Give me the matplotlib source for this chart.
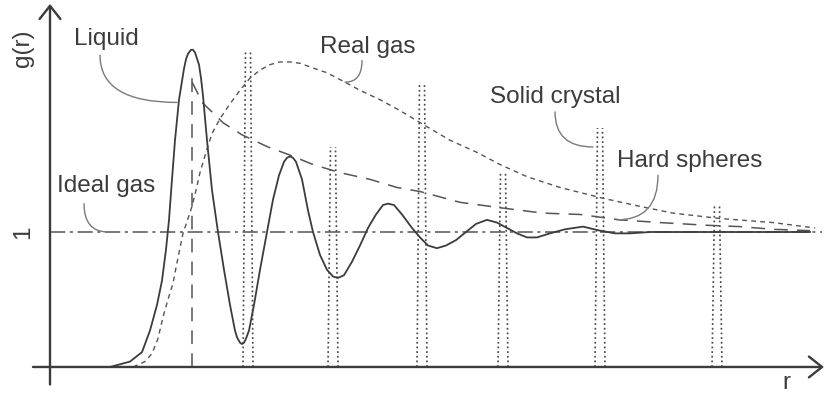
import numpy as np
import matplotlib
matplotlib.use('Agg')
import matplotlib.pyplot as plt

plt.rcParams['font.family'] = ['Liberation Sans', 'DejaVu Sans']

# liquid g(r)
liquid_r = [0.60, 0.80, 0.92, 1.00, 1.07, 1.12, 1.16, 1.19, 1.22, 1.25, 1.29, 1.34, 1.36, 1.38,
            1.41, 1.43, 1.45, 1.49, 1.51, 1.53, 1.57, 1.62, 1.68, 1.74, 1.80, 1.85, 1.87, 1.90,
            1.92, 1.94, 1.96, 1.99, 2.04, 2.10, 2.17, 2.23, 2.29, 2.34, 2.37, 2.40, 2.43, 2.46,
            2.52, 2.58, 2.63, 2.70, 2.77, 2.83, 2.88, 2.94, 3.02, 3.10, 3.18, 3.26, 3.33, 3.38,
            3.44, 3.52, 3.62, 3.70, 3.78, 3.87, 3.96, 4.06, 4.16, 4.26, 4.37, 4.47, 4.57, 4.67,
            4.77, 4.87, 5.00, 5.15, 5.33, 5.50, 5.65, 5.80, 6.00, 7.60]
liquid_g = [0.00, 0.04, 0.11, 0.27, 0.46, 0.64, 0.87, 1.09, 1.39, 1.68, 1.98, 2.21, 2.28, 2.32,
            2.35, 2.35, 2.33, 2.24, 2.14, 2.01, 1.68, 1.31, 1.00, 0.72, 0.46, 0.27, 0.22, 0.18,
            0.17, 0.18, 0.21, 0.27, 0.46, 0.72, 1.00, 1.24, 1.42, 1.52, 1.55, 1.56, 1.55, 1.52,
            1.39, 1.16, 1.00, 0.83, 0.72, 0.67, 0.66, 0.68, 0.78, 0.90, 1.03, 1.13, 1.20, 1.21,
            1.20, 1.13, 1.03, 0.96, 0.90, 0.88, 0.90, 0.94, 1.00, 1.06, 1.09, 1.07, 1.03, 0.99,
            0.96, 0.96, 0.99, 1.02, 1.04, 1.01, 0.99, 0.99, 1.00, 1.00]

# real gas
gas_r = [0.83, 0.95, 1.02, 1.08, 1.13, 1.18, 1.23, 1.28, 1.33, 1.38, 1.42, 1.46, 1.50, 1.56,
         1.62, 1.70, 1.80, 1.90, 2.00, 2.10, 2.20, 2.30, 2.40, 2.50, 2.65, 2.77, 2.95, 3.10,
         3.30, 3.50, 3.77, 4.00, 4.27, 4.50, 4.77, 5.10, 5.53, 5.90, 6.23, 6.70, 7.23, 7.65]
gas_g = [0.00, 0.04, 0.10, 0.21, 0.37, 0.50, 0.62, 0.81, 0.99, 1.10, 1.19, 1.31, 1.44, 1.59,
         1.73, 1.84, 1.95, 2.05, 2.14, 2.20, 2.24, 2.26, 2.26, 2.25, 2.21, 2.18, 2.11, 2.05,
         1.98, 1.90, 1.78, 1.68, 1.59, 1.50, 1.41, 1.33, 1.25, 1.19, 1.14, 1.10, 1.07, 1.03]

# hard spheres: contact at sigma, then decaying envelope
hs_sigma = 1.42
hs_contact = 2.18
hs_r = [1.42, 1.47, 1.52, 1.62, 1.73, 1.92, 2.18, 2.40, 2.63, 2.90, 3.20, 3.47, 3.70, 4.10,
        4.50, 4.93, 5.30, 5.70, 6.10, 6.57, 6.90, 7.23, 7.60]
hs_g = [2.11, 2.04, 1.96, 1.89, 1.81, 1.72, 1.63, 1.57, 1.50, 1.44, 1.39, 1.33, 1.30, 1.22,
        1.18, 1.14, 1.13, 1.09, 1.07, 1.05, 1.04, 1.02, 1.01]

# solid crystal peaks
crystal_r = [1.98, 2.83, 3.72, 4.53, 5.50, 6.67]
crystal_g = [2.35, 1.63, 2.09, 1.44, 1.77, 1.20]

ideal_g = 1.0

ink = '#3c3c3c'
thin = '#7a7a7a'

fig = plt.figure(figsize=(8.25, 3.96), dpi=100)
ax = fig.add_axes([0, 0, 1, 1])
ax.set_xlim(-0.5, 7.75)
ax.set_ylim(-0.215, 2.719)
ax.axis('off')

# axes with arrows
ax.annotate('', xy=(7.74, 0), xytext=(-0.17, 0),
            arrowprops=dict(arrowstyle='->,head_length=0.95,head_width=0.75', color=ink, lw=1.7,
                            shrinkA=0, shrinkB=0))
ax.annotate('', xy=(0, 2.69), xytext=(0, -0.13),
            arrowprops=dict(arrowstyle='->,head_length=0.95,head_width=0.75', color=ink, lw=1.7,
                            shrinkA=0, shrinkB=0))

# ideal gas
ax.plot([0, 7.72], [ideal_g, ideal_g], color='#555555', lw=1.1, dashes=(10, 3, 2, 3))

# solid crystal spikes (drawn as a pair of dotted lines)
for c, h in zip(crystal_r, crystal_g):
    ax.plot([c - 0.05, c - 0.025], [0, h], color='#4a4a4a', lw=1.2, dashes=(1.1, 1.7))
    ax.plot([c + 0.05, c + 0.025], [0, h], color='#4a4a4a', lw=1.2, dashes=(1.1, 1.7))

# hard spheres
ax.plot([hs_sigma, hs_sigma], [0, hs_contact], color='#555555', lw=1.1, dashes=(9, 6))
ax.plot(hs_r, hs_g, color='#555555', lw=1.1, dashes=(9, 6))

# real gas
ax.plot(gas_r, gas_g, color='#555555', lw=1.0, dashes=(3.5, 3))

# liquid
ax.plot(liquid_r, liquid_g, color=ink, lw=1.3, solid_joinstyle='round')

# labels
fs = 17.5
ax.text(0.24, 2.385, 'Liquid', fontsize=fs, color=ink, ha='left', va='baseline')
ax.text(0.07, 1.30, 'Ideal gas', fontsize=fs, color=ink, ha='left', va='baseline')
ax.text(2.70, 2.326, 'Real gas', fontsize=fs, color=ink, ha='left', va='baseline')
ax.text(4.40, 1.956, 'Solid crystal', fontsize=fs, color=ink, ha='left', va='baseline')
ax.text(5.67, 1.48, 'Hard spheres', fontsize=fs, color=ink, ha='left', va='baseline')
ax.text(-0.27, 2.36, 'g(r)', fontsize=fs, color=ink, rotation=90, ha='center', va='center')
ax.text(-0.27, 1.0, '1', fontsize=fs, color=ink, rotation=90, ha='center', va='center')
ax.text(7.36, -0.12, 'r', fontsize=fs, color=ink, ha='center', va='center')

# leader lines
leaders = [((0.50, 2.31), (1.27, 1.96)),
           ((0.34, 1.21), (0.58, 1.00)),
           ((3.12, 2.27), (2.95, 2.11)),
           ((5.05, 1.89), (5.43, 1.63)),
           ((6.08, 1.42), (5.67, 1.09))]
for start, end in leaders:
    ax.annotate('', xy=end, xytext=start,
                arrowprops=dict(arrowstyle='-', color=thin, lw=1.0, shrinkA=0, shrinkB=0,
                                connectionstyle='angle3,angleA=90,angleB=0'))

plt.savefig('out.png', dpi=100)
